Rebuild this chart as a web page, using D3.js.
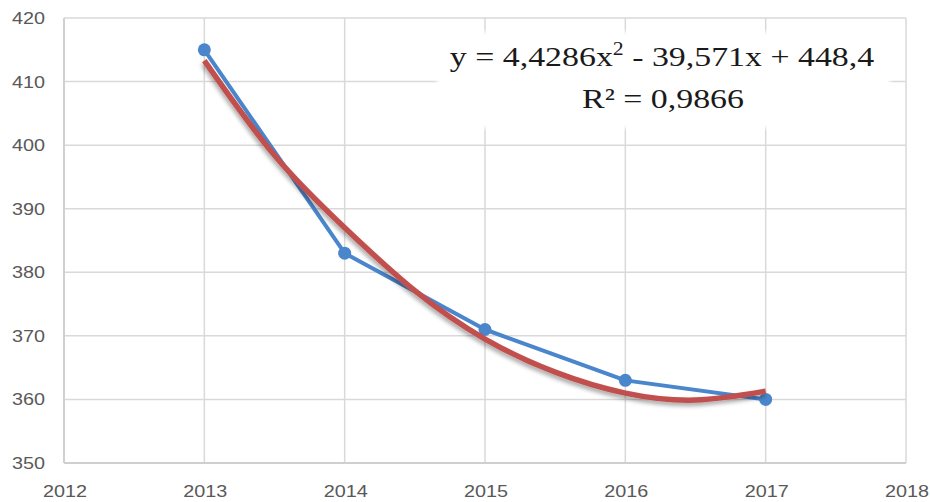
<!DOCTYPE html>
<html><head><meta charset="utf-8">
<script src="https://cdn.jsdelivr.net/npm/d3@7"></script>
<style>body{margin:0;background:#fff}svg{display:block}</style>
</head><body>
<script>
const years = [2013, 2014, 2015, 2016, 2017];
const values = [415, 383, 371, 363, 360];
const trendX = [2013, 2013.5, 2014, 2014.5, 2015, 2015.5, 2016, 2016.5, 2017];
const trendY = [413.3, 398.4, 387.0, 377.1, 369.5, 364.3, 361.0, 359.9, 361.3];
const xTicks = [2012, 2013, 2014, 2015, 2016, 2017, 2018];
const yTicks = [350, 360, 370, 380, 390, 400, 410, 420];
const eqLine1 = ["y = 4,4286x", "2", " - 39,571x + 448,4"];
const eqLine2 = "R² = 0,9866";

const W = 930, H = 502;
const svg = d3.select("body").append("svg").attr("width", W).attr("height", H);
const x = d3.scaleLinear().domain([2012, 2018]).range([64, 906]);
const y = d3.scaleLinear().domain([350, 420]).range([463, 18]);
const SX = 1.2;

const defs = svg.append("defs");
const f = defs.append("filter").attr("id","sh").attr("x","-10%").attr("y","-10%").attr("width","120%").attr("height","130%");
f.append("feDropShadow").attr("dx",-1).attr("dy",3).attr("stdDeviation",2).attr("flood-color","#000").attr("flood-opacity",0.35);
const g2 = defs.append("filter").attr("id","glow").attr("x","-5%").attr("y","-10%").attr("width","110%").attr("height","120%");
g2.append("feGaussianBlur").attr("stdDeviation",2);

// grid
svg.append("g").selectAll("line").data(yTicks).join("line")
  .attr("x1", x(2012)).attr("x2", x(2018)).attr("y1", d => y(d)).attr("y2", d => y(d))
  .attr("stroke", "#d9d9d9").attr("stroke-width", 1.5);
svg.append("g").selectAll("line").data(xTicks).join("line")
  .attr("x1", d => x(d)).attr("x2", d => x(d)).attr("y1", y(420)).attr("y2", y(350))
  .attr("stroke", "#d9d9d9").attr("stroke-width", 1.5);
// axis lines
svg.append("line").attr("x1", x(2012)).attr("x2", x(2018)).attr("y1", y(350)).attr("y2", y(350)).attr("stroke","#cfcfcf").attr("stroke-width",1.8);
svg.append("line").attr("x1", x(2012)).attr("x2", x(2012)).attr("y1", y(420)).attr("y2", y(350)).attr("stroke","#cfcfcf").attr("stroke-width",1.8);

// tick labels
svg.append("g").selectAll("text").data(yTicks).join("text")
  .attr("transform", d => `translate(45,${y(d) + 6}) scale(${SX},1)`).attr("text-anchor", "end")
  .attr("font-family", "Liberation Sans, Arial, sans-serif").attr("font-size", 16.5).attr("fill", "#595959")
  .text(d => d);
svg.append("g").selectAll("text").data(xTicks).join("text")
  .attr("transform", d => `translate(${x(d) + 1},497) scale(${SX},1)`).attr("text-anchor", "middle")
  .attr("font-family", "Liberation Sans, Arial, sans-serif").attr("font-size", 16.5).attr("fill", "#595959")
  .text(d => d);

// equation box
svg.append("rect").attr("x", 437).attr("y", 32).attr("width", 453).attr("height", 96).attr("fill", "#fff").attr("filter","url(#glow)");
svg.append("rect").attr("x", 440).attr("y", 35).attr("width", 447).attr("height", 90).attr("fill", "#fff");

// data line
const pts = years.map((d, i) => [d, values[i]]);
svg.append("path").datum(pts)
  .attr("d", d3.line().x(d => x(d[0])).y(d => y(d[1])))
  .attr("fill", "none").attr("stroke", "#4a86cc").attr("stroke-width", 4).attr("stroke-linejoin","round");
svg.append("g").selectAll("circle").data(pts).join("circle")
  .attr("cx", d => x(d[0])).attr("cy", d => y(d[1])).attr("r", 6.5).attr("fill", "#4a86cc");

// trend line
const tpts = trendX.map((d, i) => [d, trendY[i]]);
svg.append("path").datum(tpts)
  .attr("d", d3.line().x(d => x(d[0])).y(d => y(d[1])).curve(d3.curveNatural))
  .attr("fill", "none").attr("stroke", "#c0504d").attr("stroke-width", 5.5).attr("filter","url(#sh)");

// equation text
const t1 = svg.append("text").attr("transform", `translate(662,66) scale(1.21,1)`).attr("text-anchor", "middle")
  .attr("font-family", "Liberation Serif, Times New Roman, serif").attr("font-size", 28).attr("fill", "#1a1a1a");
t1.append("tspan").text(eqLine1[0]);
t1.append("tspan").attr("dy", -11).attr("font-size", 18).text(eqLine1[1]);
t1.append("tspan").attr("dy", 11).text(eqLine1[2]);
svg.append("text").attr("transform", `translate(663,108) scale(1.21,1)`).attr("text-anchor", "middle")
  .attr("font-family", "Liberation Serif, Times New Roman, serif").attr("font-size", 28).attr("fill", "#1a1a1a")
  .text(eqLine2);
</script>
</body></html>
